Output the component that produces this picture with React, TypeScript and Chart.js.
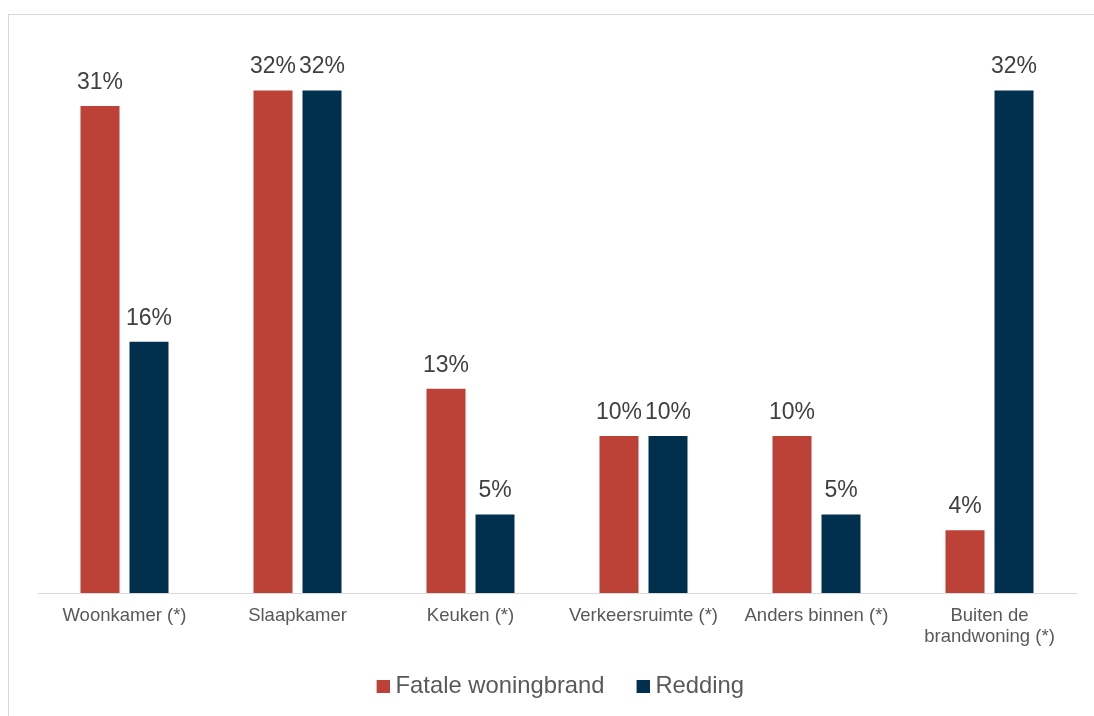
import React, { useEffect, useRef } from "react";
import { Chart, registerables } from "chart.js";

Chart.register(...registerables);

const categories: (string | string[])[] = [
  "Woonkamer (*)",
  "Slaapkamer",
  "Keuken (*)",
  "Verkeersruimte (*)",
  "Anders binnen (*)",
  ["Buiten de", "brandwoning (*)"],
];
const fataleWoningbrand = [31, 32, 13, 10, 10, 4];
const redding = [16, 32, 5, 10, 5, 32];
const seriesNames = ["Fatale woningbrand", "Redding"];
const seriesColors = ["#BC4136", "#00304E"];

const FONT = '"Liberation Sans", Arial, sans-serif';

const valueLabels = {
  id: "valueLabels",
  afterDatasetsDraw(chart: any) {
    const ctx = chart.ctx;
    ctx.save();
    ctx.font = `23px ${FONT}`;
    ctx.fillStyle = "#404040";
    ctx.textAlign = "center";
    ctx.textBaseline = "alphabetic";
    chart.data.datasets.forEach((ds: any, i: number) => {
      const meta = chart.getDatasetMeta(i);
      meta.data.forEach((el: any, j: number) => {
        ctx.fillText(`${ds.data[j]}%`, el.x, el.y - 17);
      });
    });
    ctx.restore();
  },
};

// legend swatch: 24px wide image whose right-most 13px hold the coloured square
function makeSwatch(color: string) {
  const c = document.createElement("canvas");
  c.width = 24;
  c.height = 13;
  const g = c.getContext("2d")!;
  g.fillStyle = color;
  g.fillRect(11, 0, 13, 13);
  return c;
}

export default function App() {
  const ref = useRef<HTMLCanvasElement | null>(null);
  useEffect(() => {
    if (!ref.current) return;
    const swatches = seriesColors.map(makeSwatch);
    const chart = new Chart(ref.current, {
      type: "bar",
      data: {
        labels: categories,
        datasets: [
          {
            label: seriesNames[0],
            data: fataleWoningbrand,
            backgroundColor: seriesColors[0],
            categoryPercentage: 0.5665,
            barPercentage: 0.796,
          },
          {
            label: seriesNames[1],
            data: redding,
            backgroundColor: seriesColors[1],
            categoryPercentage: 0.5665,
            barPercentage: 0.796,
          },
        ],
      },
      options: {
        responsive: false,
        devicePixelRatio: 1,
        animation: false,
        layout: { padding: { left: 29, right: 16.3, top: 44, bottom: 0 } },
        plugins: {
          tooltip: { enabled: false },
          legend: {
            position: "bottom",
            labels: {
              usePointStyle: true,
              pointStyleWidth: 12,
              boxHeight: 13,
              padding: 27,
              color: "#595959",
              font: { family: FONT, size: 23.8 },
              generateLabels: (chart: any) => {
                const items = Chart.defaults.plugins.legend.labels.generateLabels(chart);
                items.forEach((it: any, i: number) => {
                  it.pointStyle = swatches[i];
                });
                return items;
              },
            },
          },
        },
        scales: {
          x: {
            grid: { display: false, drawTicks: false },
            border: { display: true, color: "#d9d9d9", width: 1 },
            ticks: {
              color: "#595959",
              padding: 13,
              maxRotation: 0,
              autoSkip: false,
              font: { family: FONT, size: 18.5, lineHeight: 1.1 },
            },
            afterFit: (scale: any) => {
              scale.height = 54.2;
            },
          },
          y: {
            position: "right",
            min: 0,
            max: 34,
            grid: { display: false, drawTicks: false },
            border: { display: false },
            ticks: { display: false },
            afterFit: (scale: any) => {
              scale.width = 1.7;
            },
          },
        },
      },
      plugins: [valueLabels],
    });
    return () => chart.destroy();
  }, []);

  return (
    <>
      <style>{`body{margin:0;overflow:hidden;}`}</style>
      <div
        style={{
          position: "absolute",
          left: 8,
          top: 14,
          width: 1086,
          height: 702,
          overflow: "hidden",
          borderLeft: "1px solid #d9d9d9",
          borderTop: "1px solid #d9d9d9",
          boxSizing: "border-box",
          background: "#fff",
        }}
      >
        <canvas ref={ref} width={1085} height={693} style={{ display: "block" }} />
      </div>
    </>
  );
}
